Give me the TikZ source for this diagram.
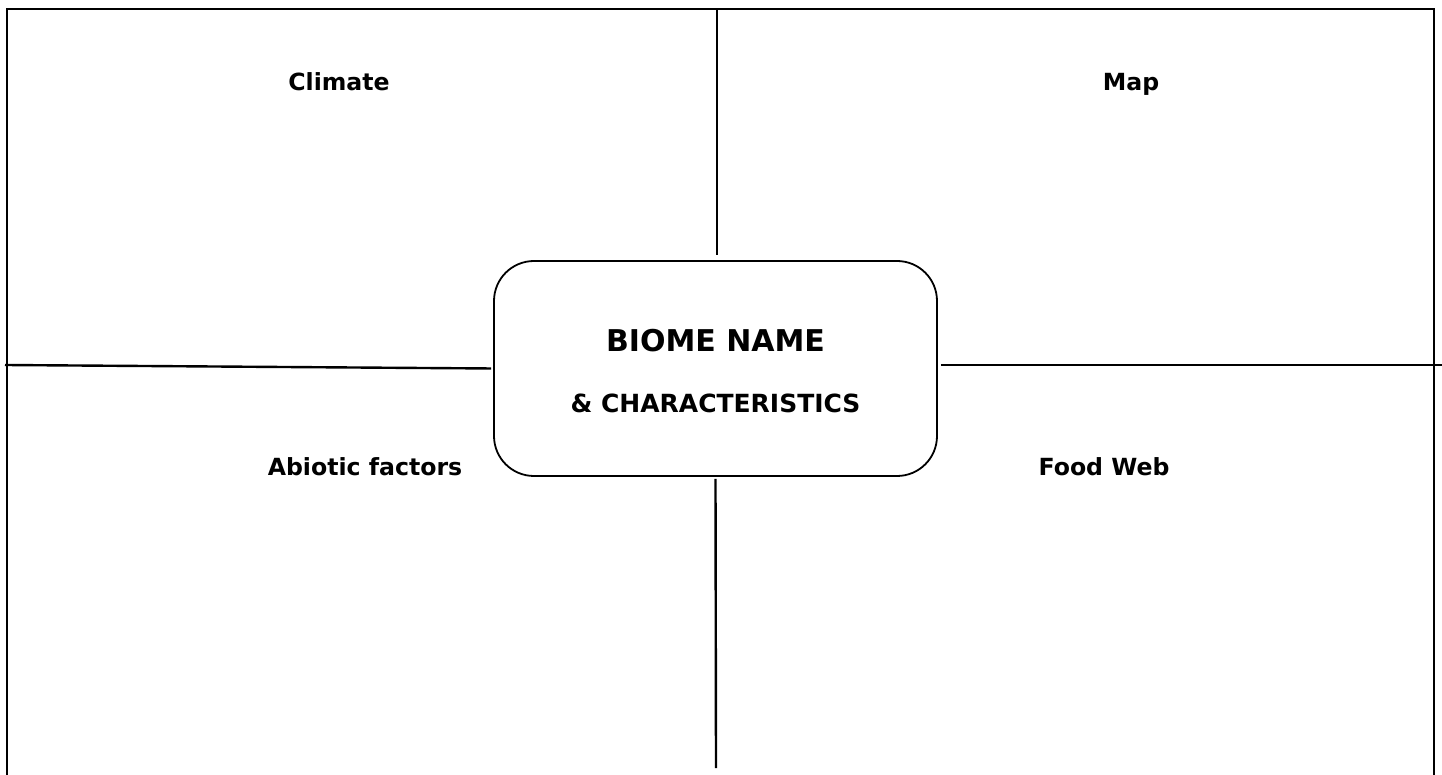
\documentclass[tikz,border=0pt]{standalone}
\usepackage{fontspec}
\setmainfont{DejaVu Sans}
\usepackage{tikz}
\usetikzlibrary{positioning}

\tikzset{
  rule/.style={line width=1.2pt,black},
  hubbox/.style={draw,line width=0.9pt,rounded corners=20pt,minimum width=221.5pt,minimum height=107.5pt,inner sep=0pt},
  hubtext/.style={inner sep=0pt,anchor=base,font=\bfseries},
  quadlabel/.style={font=\fontsize{11.8}{14}\selectfont\bfseries,inner sep=0pt,anchor=base}
}

\begin{document}
\begin{tikzpicture}[x=0.5pt,y=-0.5pt]
\useasboundingbox (0,0) rectangle (1442,775);
% outer frame, open at the bottom
\draw[rule] (7,775) -- (7,9) -- (1434,9) -- (1434,775);
% centre box
\node[hubbox] (hub) at (715.5,368.5) {};
\node[hubtext,font=\fontsize{15}{18}\selectfont\bfseries] (biome) at ([yshift=8.25pt]hub.center) {BIOME NAME};
\node[hubtext,font=\fontsize{12.5}{15}\selectfont\bfseries] (traits) at ([yshift=-22.25pt]hub.center) {\& CHARACTERISTICS};
% free ends of the dividers
\coordinate (topend) at (717,9);
\coordinate (botend) at (716,768);
\coordinate (leftend) at (5,365);
\coordinate (rightend) at (1442,365);
\draw[rule,shorten >=2.5pt] (topend) -- (topend |- hub.north);
\draw[rule,shorten <=1pt] (hub.south) -- (botend);
\draw[rule,shorten >=1pt] (leftend) -- (hub.west);
\draw[rule,shorten <=1.5pt] (hub.east |- rightend) -- (rightend);
% quadrant titles
\node[quadlabel] (climate) at (339,91) {Climate};
\node[quadlabel] (map) at (1131,91) {Map};
\node[quadlabel] (abiotic) at (365,476) {Abiotic factors};
\node[quadlabel] (foodweb) at (1104,476) {Food Web};
\end{tikzpicture}
\end{document}
